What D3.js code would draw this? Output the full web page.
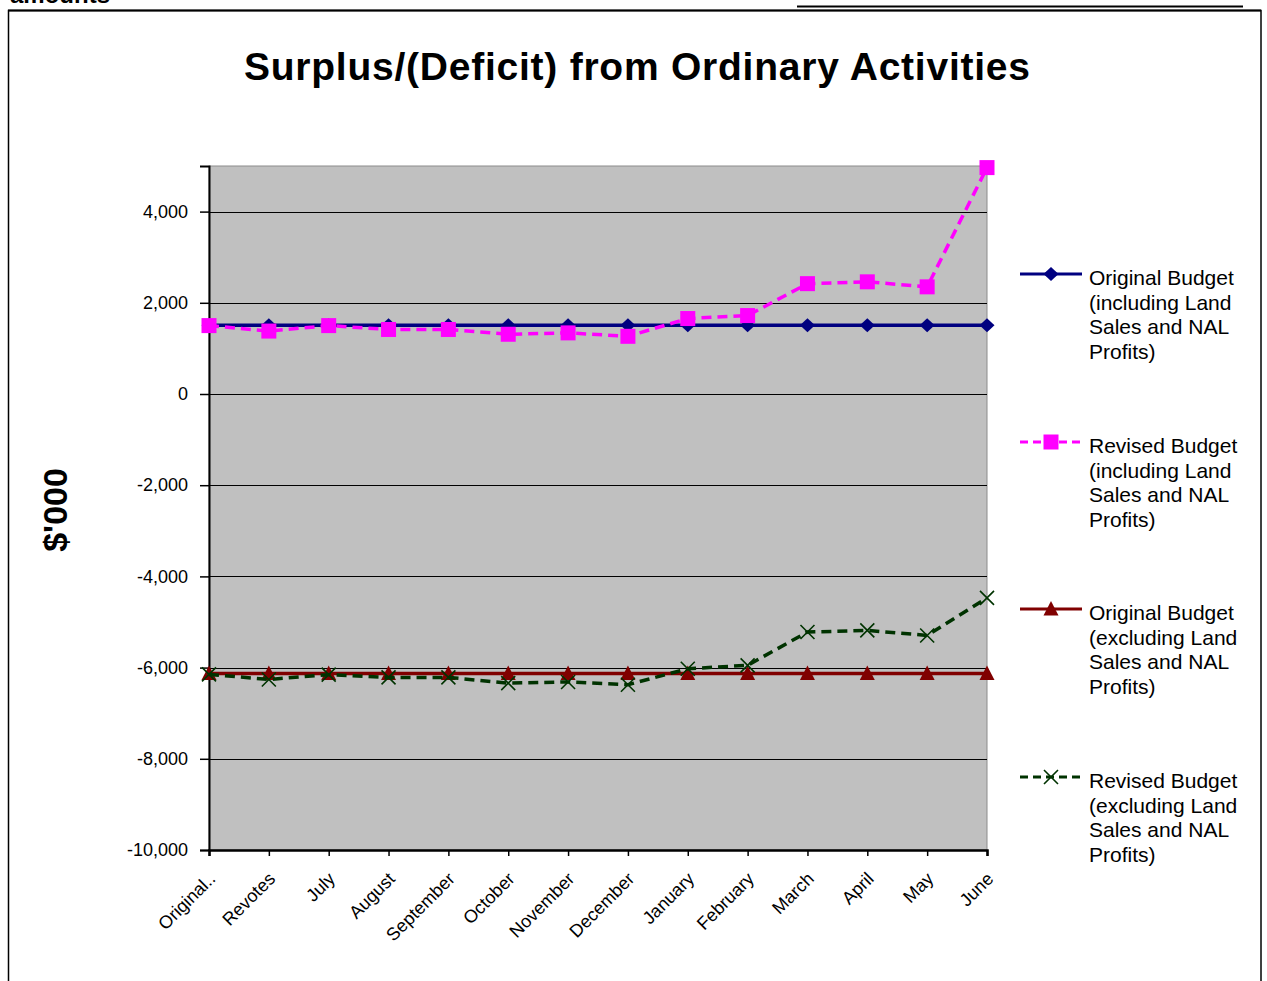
<!DOCTYPE html>
<html>
<head>
<meta charset="utf-8">
<script src="https://cdnjs.cloudflare.com/ajax/libs/d3/7.8.5/d3.min.js"></script>
<style>
  html, body { margin: 0; padding: 0; background: #ffffff; }
  svg { display: block; font-family: "Liberation Sans", Arial, sans-serif; }
</style>
</head>
<body>
<svg id="chart" width="1267" height="981"></svg>
<script>
const categories = ["Original..", "Revotes", "July", "August", "September", "October", "November", "December", "January", "February", "March", "April", "May", "June"];
const originalIncl = [1510, 1510, 1510, 1510, 1510, 1510, 1510, 1510, 1510, 1510, 1510, 1510, 1510, 1510];
const revisedIncl = [1500, 1380, 1500, 1415, 1415, 1310, 1340, 1265, 1655, 1720, 2420, 2460, 2350, 4965];
const originalExcl = [-6130, -6130, -6130, -6130, -6130, -6130, -6130, -6130, -6130, -6130, -6130, -6130, -6130, -6130];
const revisedExcl = [-6150, -6260, -6155, -6215, -6215, -6340, -6315, -6375, -6025, -5950, -5220, -5185, -5295, -4470];
const yTicks = [-10000, -8000, -6000, -4000, -2000, 0, 2000, 4000];
const seriesNames = [
  ["Original Budget", "(including Land", "Sales and NAL", "Profits)"],
  ["Revised Budget", "(including Land", "Sales and NAL", "Profits)"],
  ["Original Budget", "(excluding Land", "Sales and NAL", "Profits)"],
  ["Revised Budget", "(excluding Land", "Sales and NAL", "Profits)"]
];
const title = "Surplus/(Deficit) from Ordinary Activities";
const yTitle = "$'000";

const series = [
  { values: originalIncl, names: seriesNames[0], color: "#000080", dash: null, marker: "diamond" },
  { values: revisedIncl, names: seriesNames[1], color: "#ff00ff", dash: "10,6", marker: "square" },
  { values: originalExcl, names: seriesNames[2], color: "#800000", dash: null, marker: "triangle" },
  { values: revisedExcl, names: seriesNames[3], color: "#003300", dash: "10,6", marker: "x" }
];

const svg = d3.select("#chart");
const plot = { left: 209, right: 987, top: 166, bottom: 850 };

// page fragments and frame
svg.append("text").attr("x", 10).attr("y", 3).attr("font-size", 24).attr("font-weight", "bold").text("amounts");
svg.append("line").attr("x1", 797).attr("x2", 1243).attr("y1", 6.5).attr("y2", 6.5).attr("stroke", "#000").attr("stroke-width", 2);
svg.append("rect").attr("x", 8.5).attr("y", 10.5).attr("width", 1252.5).attr("height", 1000)
  .attr("fill", "none").attr("stroke", "#000").attr("stroke-width", 1.5);
svg.append("line").attr("x1", 8).attr("x2", 1261).attr("y1", 10.5).attr("y2", 10.5).attr("stroke", "#000").attr("stroke-width", 2);

// title
svg.append("text").attr("x", 637).attr("y", 80).attr("text-anchor", "middle")
  .attr("font-size", 39).attr("font-weight", "bold")
  .attr("textLength", 786).attr("lengthAdjust", "spacing").text(title);

const x = d3.scalePoint().domain(categories).range([plot.left, plot.right]).padding(0);
const y = d3.scaleLinear().domain([-10000, 5000]).range([plot.bottom, plot.top]);

// plot background
svg.append("rect").attr("x", plot.left).attr("y", plot.top)
  .attr("width", plot.right - plot.left).attr("height", plot.bottom - plot.top)
  .attr("fill", "#c0c0c0").attr("stroke", "#8c8c8c").attr("stroke-width", 1);

// gridlines
svg.append("g").selectAll("line").data(yTicks).join("line")
  .attr("x1", plot.left).attr("x2", plot.right)
  .attr("y1", d => Math.round(y(d)) + 0.5).attr("y2", d => Math.round(y(d)) + 0.5)
  .attr("stroke", "#000").attr("stroke-width", 1.2);

// y axis
const fmt = d3.format(",");
const yAxis = d3.axisLeft(y).tickValues(yTicks).tickFormat(d => fmt(d).replace("\u2212", "-")).tickSize(9).tickPadding(12);
const gy = svg.append("g").attr("transform", `translate(${plot.left},0)`).call(yAxis);
gy.select(".domain").attr("stroke", "#000").attr("stroke-width", 2);
gy.selectAll(".tick line").attr("stroke", "#000").attr("stroke-width", 1.5);
gy.selectAll(".tick text").attr("font-size", 18).attr("fill", "#000")
  .attr("font-family", "'Liberation Sans', Arial, sans-serif");

// x axis
const xAxis = d3.axisBottom(x).tickSize(6).tickFormat(d => d);
const gx = svg.append("g").attr("transform", `translate(0,${plot.bottom})`).call(xAxis);
gx.select(".domain").attr("stroke", "#000").attr("stroke-width", 2.5);
gx.selectAll(".tick line").attr("stroke", "#000").attr("stroke-width", 1.5);
gx.selectAll(".tick text")
  .attr("font-size", 18).attr("fill", "#000")
  .attr("font-family", "'Liberation Sans', Arial, sans-serif")
  .attr("text-anchor", "end")
  .attr("dy", null).attr("y", null)
  .attr("transform", "translate(7,30) rotate(-45)");

// marker drawer
function drawMarker(g, type, cx, cy, color) {
  if (type === "diamond") {
    g.append("path").attr("d", `M${cx},${cy - 7}L${cx + 7.5},${cy}L${cx},${cy + 7}L${cx - 7.5},${cy}Z`).attr("fill", color);
  } else if (type === "square") {
    g.append("rect").attr("x", cx - 7.5).attr("y", cy - 7.5).attr("width", 15).attr("height", 15).attr("fill", color);
  } else if (type === "triangle") {
    g.append("path").attr("d", `M${cx},${cy - 8}L${cx + 7.5},${cy + 6.5}L${cx - 7.5},${cy + 6.5}Z`).attr("fill", color);
  } else if (type === "x") {
    g.append("path").attr("d", `M${cx - 7},${cy - 7}L${cx + 7},${cy + 7}M${cx + 7},${cy - 7}L${cx - 7},${cy + 7}`)
      .attr("stroke", color).attr("stroke-width", 1.6).attr("fill", "none");
  }
}

const line = d3.line().x((d, i) => x(categories[i])).y(d => y(d));

series.forEach(s => {
  const g = svg.append("g");
  g.append("path").datum(s.values).attr("d", line)
    .attr("fill", "none").attr("stroke", s.color).attr("stroke-width", 3.5)
    .attr("stroke-dasharray", s.dash);
  s.values.forEach((v, i) => drawMarker(g, s.marker, x(categories[i]), y(v), s.color));
});

// legend
const legendTops = [274, 442, 609, 777];
series.forEach((s, k) => {
  const g = svg.append("g");
  const ly = legendTops[k];
  g.append("line").attr("x1", 1020).attr("x2", 1082).attr("y1", ly).attr("y2", ly)
    .attr("stroke", s.color).attr("stroke-width", 3).attr("stroke-dasharray", s.dash ? "8,5" : null);
  drawMarker(g, s.marker, 1051, ly, s.color);
  s.names.forEach((t, j) => {
    g.append("text").attr("x", 1089).attr("y", ly + 11 + j * 24.7)
      .attr("font-size", 21).attr("fill", "#000").text(t);
  });
});

// y title
svg.append("text").attr("transform", "translate(67,510) rotate(-90)")
  .attr("text-anchor", "middle").attr("font-size", 34).attr("font-weight", "bold").text(yTitle);
</script>
</body>
</html>
